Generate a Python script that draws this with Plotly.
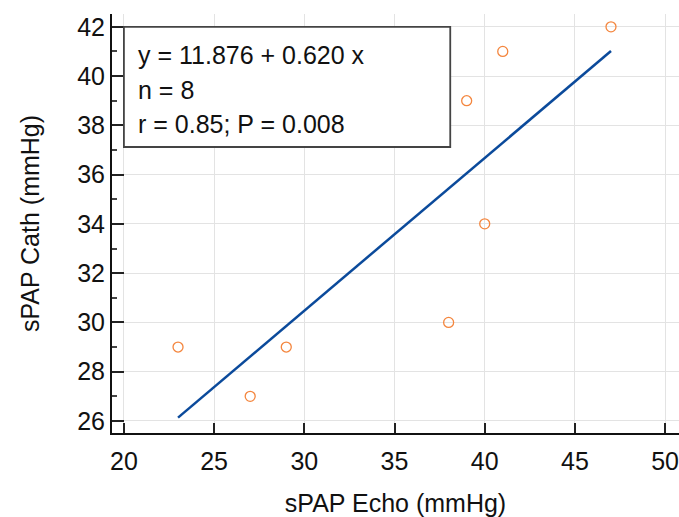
import plotly.graph_objects as go

# Data
echo = [23, 27, 29, 38, 40, 39, 41, 47]
cath = [29, 27, 29, 30, 34, 39, 41, 42]
intercept = 11.876
slope = 0.620
stats_lines = ["y = 11.876 + 0.620 x", "n = 8", "r = 0.85; P = 0.008"]
x_ticks = [20, 25, 30, 35, 40, 45, 50]
y_ticks = [26, 28, 30, 32, 34, 36, 38, 40, 42]

fit_x = [min(echo), max(echo)]
fit_y = [intercept + slope * v for v in fit_x]

FONT = "Liberation Sans, Arial, sans-serif"
FS = 25

fig = go.Figure()
fig.add_trace(go.Scatter(x=fit_x, y=fit_y, mode="lines",
                         line=dict(color="#0B4A9B", width=2.5), hoverinfo="skip"))
fig.add_trace(go.Scatter(x=echo, y=cath, mode="markers",
                         marker=dict(symbol="circle-open", size=10, color="#F4863E",
                                     line=dict(width=1.3, color="#F4863E"))))

fig.add_shape(type="rect", x0=20, x1=38.09, y0=37.12, y1=42,
              line=dict(color="#444444", width=1.8), fillcolor="white", layer="above")
ys = [40.85, 39.43, 38.05]
for t, yy in zip(stats_lines, ys):
    fig.add_annotation(x=20.65, y=yy, text=t, showarrow=False, xanchor="left",
                       yanchor="middle", font=dict(family=FONT, size=FS, color="#111111"))

fig.update_layout(
    width=679, height=517,
    margin=dict(l=112, r=0, t=14, b=84),
    plot_bgcolor="white", paper_bgcolor="white",
    showlegend=False,
    font=dict(family=FONT, size=FS, color="#111111"),
)
fig.update_xaxes(range=[19.34, 50.77], tickvals=x_ticks, ticks="inside", ticklen=10,
                 tickwidth=2, tickcolor="#222222", automargin=False,
                 ticklabelstandoff=5, ticklabeloverflow="allow",
                 showline=True, linecolor="#111111", linewidth=2,
                 showgrid=True, gridcolor="#E3E3E3", gridwidth=1, zeroline=False,
                 title=dict(text="sPAP Echo (mmHg)", standoff=24,
                            font=dict(size=FS, family=FONT, color="#111111")),
                 tickfont=dict(size=FS))
fig.update_yaxes(range=[25.51, 42.52], tickvals=y_ticks, ticks="inside", ticklen=12,
                 tickwidth=2, tickcolor="#222222", automargin=False,
                 ticklabeloverflow="allow",
                 minor=dict(dtick=1, ticks="inside", ticklen=5, tickwidth=1.5,
                            tickcolor="#444444", showgrid=False),
                 showline=True, linecolor="#111111", linewidth=2,
                 showgrid=True, gridcolor="#E3E3E3", gridwidth=1, zeroline=False,
                 title=dict(text="sPAP Cath (mmHg)", standoff=30,
                            font=dict(size=FS, family=FONT, color="#111111")),
                 tickfont=dict(size=FS))

fig.write_html("out.html", config={"displayModeBar": False},
               post_script="document.body.style.margin='0';document.body.style.overflow='hidden';")
